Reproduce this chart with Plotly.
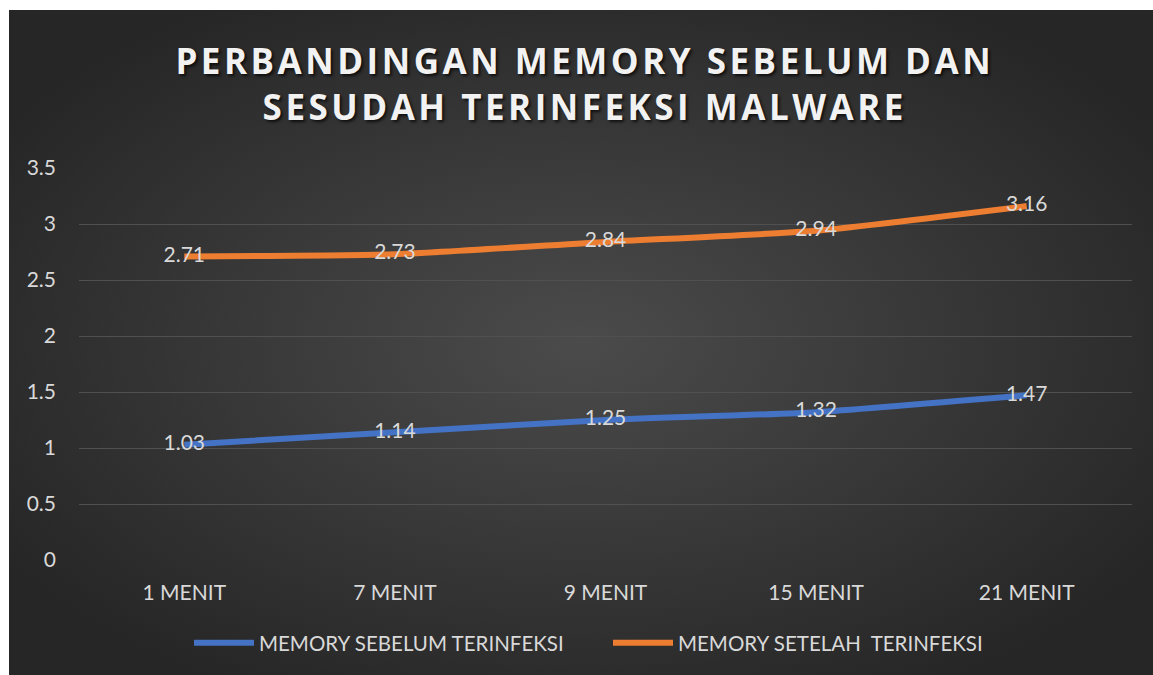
import base64
import plotly.graph_objects as go

categories = ["1 MENIT", "7 MENIT", "9 MENIT", "15 MENIT", "21 MENIT"]
sebelum = [1.03, 1.14, 1.25, 1.32, 1.47]
setelah = [2.71, 2.73, 2.84, 2.94, 3.16]
series_names = ["MEMORY SEBELUM TERINFEKSI", "MEMORY SETELAH  TERINFEKSI"]
title_lines = ["PERBANDINGAN MEMORY SEBELUM DAN", "SESUDAH TERINFEKSI MALWARE"]
colors = ["#4472C4", "#ED7D31"]

W, H = 1153, 675
L, R, T, B = 79, 21, 168, 115
pw, ph = W - L - R, H - T - B

svg = """<svg xmlns='http://www.w3.org/2000/svg' width='1144' height='665' viewBox='0 0 1144 665' preserveAspectRatio='none'>
<defs><radialGradient id='g' cx='50%' cy='50%' r='60%'>
<stop offset='0%' stop-color='#4b4b4b'/>
<stop offset='100%' stop-color='#262626'/>
</radialGradient></defs>
<rect x='0' y='0' width='1144' height='665' fill='url(#g)'/></svg>"""
src = "data:image/svg+xml;base64," + base64.b64encode(svg.encode()).decode()


def spaced(s):
    # emulate letter spacing with hair spaces
    return "\u200a".join(list(s))


title_text = "<br>".join(spaced(t) for t in title_lines)

fig = go.Figure()
for name, vals, col in zip(series_names, [sebelum, setelah], colors):
    fig.add_trace(go.Scatter(
        x=categories, y=vals, name=name, mode="lines+text",
        line=dict(color=col, width=6, shape="spline", smoothing=0.5),
        text=[f"{v:g}" for v in vals], textposition="middle center",
        textfont=dict(family="Lato, Carlito, sans-serif", size=21, color="#d9d9d9"),
        hoverinfo="skip",
    ))

fig.update_layout(
    width=W, height=H,
    margin=dict(l=L, r=R, t=T, b=B),
    paper_bgcolor="white",
    plot_bgcolor="rgba(0,0,0,0)",
    images=[dict(source=src, xref="paper", yref="paper",
                 x=(9 - L) / pw, y=(H - B - 10) / ph,
                 sizex=(W - 9) / pw, sizey=(H - 10) / ph,
                 xanchor="left", yanchor="top", sizing="stretch", layer="below")],
    title=dict(
        text=title_text,
        x=583 / W, xref="container", xanchor="center",
        y=1 - 74 / H, yanchor="middle",
        font=dict(family="Open Sans, sans-serif", size=35, color="#f2f2f2",
                  weight="bold", shadow="2px 2px 3px rgba(0,0,0,0.7)"),
    ),
    xaxis=dict(
        type="category", range=[-0.5, 4.5], showgrid=False, zeroline=False,
        showline=False, ticks="", ticklabelstandoff=18,
        tickfont=dict(family="Lato, Carlito, sans-serif", size=21, color="#d9d9d9"),
    ),
    yaxis=dict(
        range=[0, 3.5], dtick=0.5, showgrid=True, gridcolor="#505050", gridwidth=1,
        zeroline=False, showline=False, ticks="", ticklabelstandoff=22,
        tickfont=dict(family="Lato, Carlito, sans-serif", size=21, color="#d9d9d9"),
    ),
    legend=dict(
        orientation="h", x=(189 - L) / pw, xanchor="left",
        y=-(643 - (H - B)) / ph, yanchor="middle",
        font=dict(family="Lato, Carlito, sans-serif", size=20.5, color="#d9d9d9"),
        bgcolor="rgba(0,0,0,0)", itemwidth=60, entrywidthmode="pixels", entrywidth=344,
    ),
    showlegend=True,
)

fig.write_html("out.html", config={"displayModeBar": False},
               post_script="document.body.style.margin='0';")
